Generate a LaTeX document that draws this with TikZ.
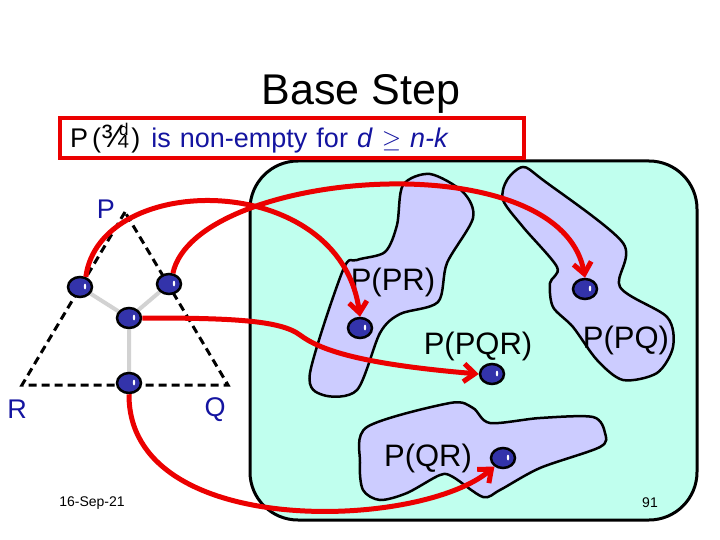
\documentclass[tikz,border=0pt]{standalone}
\usepackage{fontspec}
\setmainfont{Liberation Sans}
\usetikzlibrary{shapes.geometric,arrows.meta,backgrounds}
\definecolor{aqua}{RGB}{192,255,238}
\definecolor{lav}{RGB}{204,204,255}
\definecolor{dotblue}{RGB}{51,51,170}
\definecolor{txtblue}{RGB}{20,20,160}
\definecolor{arrred}{RGB}{235,0,0}

\begin{document}
\begin{tikzpicture}[x=1pt, y=-1pt,
	vtx/.style={ellipse, draw=black, line width=2.5pt, fill=dotblue, minimum width=24pt, minimum height=20pt, inner sep=0pt,
		path picture={\fill[white] ([xshift=5pt,yshift=0.5pt]path picture bounding box.center) ellipse (1.2pt and 3pt);}},
	blob/.style={draw=black, line width=2.5pt, fill=lav},
	lbl/.style={font=\fontsize{31}{31}\selectfont},
	cornerlbl/.style={text=txtblue, font=\fontsize{27}{27}\selectfont},
	arr/.style={draw=arrred, line width=5pt, -{Straight Barb[length=11pt,width=18pt]}}]
	\useasboundingbox (0,0) rectangle (720,540);
	% region and sub-regions
	\draw[fill=aqua, line width=3pt, rounded corners=48pt] (250,161) rectangle (697,520);
	\draw[blob] plot[smooth cycle] coordinates {(403,185) (430,174) (463,192) (473,218) (447,263) (438,302) (400,314) (380,333) (357,390) (323,395) (310,373) (343,270) (357,260) (385,252) (397,225)};
	\draw[blob] plot[smooth cycle] coordinates {(507,180) (523,167) (543,180) (623,243) (620,287) (667,317) (673,347) (657,373) (623,380) (597,360) (573,327) (553,307) (550,283) (557,267) (523,227) (503,200)};
	\draw[blob] plot[smooth cycle] coordinates {(367,427) (450,403) (473,408) (490,423) (540,418) (593,417) (605,433) (600,447) (540,468) (500,490) (483,497) (453,477) (440,475) (407,493) (380,500) (363,490) (360,463)};
	\foreach \n/\p/\t in {lpr/{(393,282)}/{P(PR)}, lpqr/{(478,346)}/{P(PQR)}, lpq/{(626,340)}/{P(PQ)}, lqr/{(428,458)}/{P(QR)}}
		\node[lbl] (\n) at \p {\t};
	% triangle
	\coordinate (tP) at (125,212);
	\coordinate (tR) at (22,385);
	\coordinate (tQ) at (228,385);
	\draw[line width=3pt, dash pattern=on 8pt off 5pt] (tP) -- (tR) -- (tQ) -- cycle;
	\node[cornerlbl] (lP) at (106,209) {P};
	\node[cornerlbl] (lR) at (17,409) {R};
	\node[cornerlbl] (lQ) at (215,410) {Q};
	\foreach \n/\p in {dl/{(80,287)}, dr/{(169,284)}, dc/{(129,318)}, db/{(129,383)}, pr/{(360,328)}, pq/{(585,289)}, pqr/{(492,374)}, qr/{(503,458)}}
		\node[vtx] (\n) at \p {};
	\begin{scope}[on background layer]
		\draw[gray!35, line width=4pt] (dc) -- (dl) (dc) -- (dr) (dc) -- (db);
	\end{scope}
	% title and condition
	\node[font=\fontsize{43}{43}\selectfont] (title) at (361,94) {Base Step};
	\node[draw=arrred, line width=4pt, fill=white, minimum height=40pt, text width=448pt, inner xsep=8pt, align=left, anchor=west, font=\fontsize{27}{27}\selectfont] (cond) at (58,138)
		{\hspace{2pt}P\hspace{4pt}(\scalebox{1.2}{¾}\kern-9pt\raisebox{12pt}{\fontsize{17}{17}\selectfont d}\kern3pt)\hspace{2pt} {\color{txtblue}is non-empty for \textit{d} $\geq$ \textit{n-k}}};
	% mappings
	\draw[arr] (dl.60) .. controls (100,170) and (340,170) .. (pr.north);
	\draw[arr] (dr.70) .. controls (195,170) and (560,140) .. (pq.north);
	\draw[arr] (dc.east) .. controls (230,318) and (280,320) .. (300,335) .. controls (320,350) and (360,364) .. (pqr.west);
	\draw[arr] (db.south) .. controls (128,540) and (420,530) .. (qr.225);
	% footer
	\node[font=\fontsize{14}{14}\selectfont] (date) at (92,503) {16-Sep-21};
	\node[font=\fontsize{14}{14}\selectfont] (page) at (650,503) {91};
\end{tikzpicture}
\end{document}
